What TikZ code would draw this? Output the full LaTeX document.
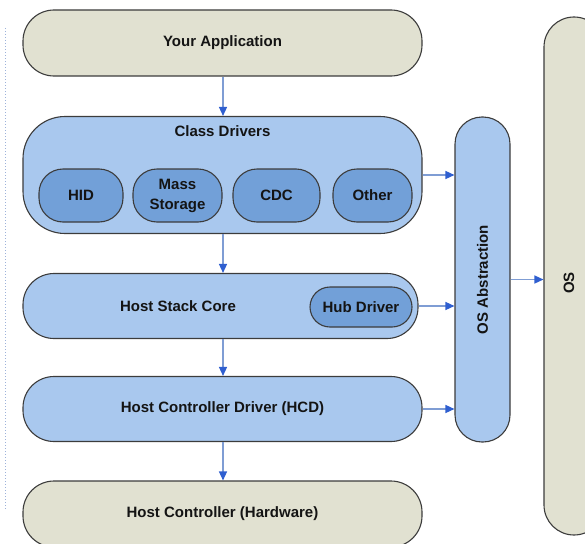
\documentclass[tikz,border=0pt]{standalone}
\usepackage{fontspec}
\setmainfont{Liberation Sans}
\usetikzlibrary{arrows.meta}

\definecolor{beige}{HTML}{E1E1D1}
\definecolor{paleblue}{HTML}{A9C8EE}
\definecolor{midblue}{HTML}{72A0D8}
\definecolor{edge}{HTML}{3C3C3C}
\definecolor{linkline}{HTML}{7F9DD4}
\definecolor{linkhead}{HTML}{2F5FD0}
\definecolor{dotline}{HTML}{9DB2DA}

\tikzset{
  layer/.style={draw=edge, line width=1.1pt, rounded corners=#1, inner sep=0pt, rectangle},
  layer/.default=31pt,
  label text/.style={font=\bfseries\fontsize{15}{20}\selectfont, text=black!92, align=center, inner sep=0pt},
  link/.style={draw=linkline, line width=1.4pt,
    -{Triangle[length=9pt, width=8pt, color=linkhead, fill=linkhead]}},
}

\begin{document}
\begin{tikzpicture}[x=1pt, y=-1pt]
  \useasboundingbox (0,0) rectangle (585,543);
  \clip (0,0) rectangle (585,543);

  % dotted margin rule
  \draw[dotline, dotted, line width=1pt] (5,28) -- (5,510);

  % application layer
  \node[layer, fill=beige, minimum width=399pt, minimum height=66pt] (app) at (222.5,43) {};
  \node[label text] (apptxt) at (222.5,43) {Your Application};

  % class drivers
  \node[layer=42pt, fill=paleblue, minimum width=399pt, minimum height=117pt] (cls) at (222.5,175) {};
  \node[label text] (clstxt) at (222.5,131) {Class Drivers};
  \node[layer=24pt, fill=midblue, minimum width=84pt, minimum height=53pt] (hid) at (81,195.5) {};
  \node[label text] at (hid) {HID};
  \node[layer=24pt, fill=midblue, minimum width=89pt, minimum height=53pt] (msc) at (177.5,195.5) {};
  \node[label text] at (msc) {Mass\\Storage};
  \node[layer=24pt, fill=midblue, minimum width=87pt, minimum height=53pt] (cdc) at (276.5,195.5) {};
  \node[label text] at (cdc) {CDC};
  \node[layer=24pt, fill=midblue, minimum width=79pt, minimum height=53pt] (oth) at (372.5,195.5) {};
  \node[label text] at (oth) {Other};

  % host stack core
  \node[layer, fill=paleblue, minimum width=395pt, minimum height=65pt] (core) at (220.5,306) {};
  \node[label text] (coretxt) at (178,306) {Host Stack Core};
  \node[layer=20pt, fill=midblue, minimum width=102pt, minimum height=40pt] (hub) at (361,307) {};
  \node[label text] at (hub) {Hub Driver};

  % host controller driver
  \node[layer, fill=paleblue, minimum width=399pt, minimum height=65pt] (hcd) at (222.5,409) {};
  \node[label text] (hcdtxt) at (hcd) {Host Controller Driver (HCD)};

  % host controller hardware
  \node[layer, fill=beige, minimum width=399pt, minimum height=66pt] (hc) at (222.5,514) {};
  \node[label text] (hctxt) at (hc) {Host Controller (Hardware)};

  % OS abstraction
  \node[layer=27pt, fill=paleblue, minimum width=55pt, minimum height=325pt] (osa) at (482.5,279.5) {};
  \node[label text, rotate=90] (osatxt) at (osa) {OS Abstraction};

  % operating system
  \node[layer=30pt, fill=beige, minimum width=60pt, minimum height=518pt] (os) at (574,276) {};
  \node[label text, rotate=90] (ostxt) at (569,283) {OS};

  % connectors
  \coordinate (spine) at (223,0);
  \draw[link] (app.south -| spine) -- (cls.north -| spine);
  \draw[link] (cls.south -| spine) -- (core.north -| spine);
  \draw[link] (core.south -| spine) -- (hcd.north -| spine);
  \draw[link] (hcd.south -| spine) -- (hc.north -| spine);

  \draw[link] (cls.east) -- (cls.east -| osa.west);
  \draw[link] (core.east) -- (core.east -| osa.west);
  \draw[link] (hcd.east) -- (hcd.east -| osa.west);
  \draw[link] (osa.east) -- (osa.east -| os.west);
\end{tikzpicture}
\end{document}
